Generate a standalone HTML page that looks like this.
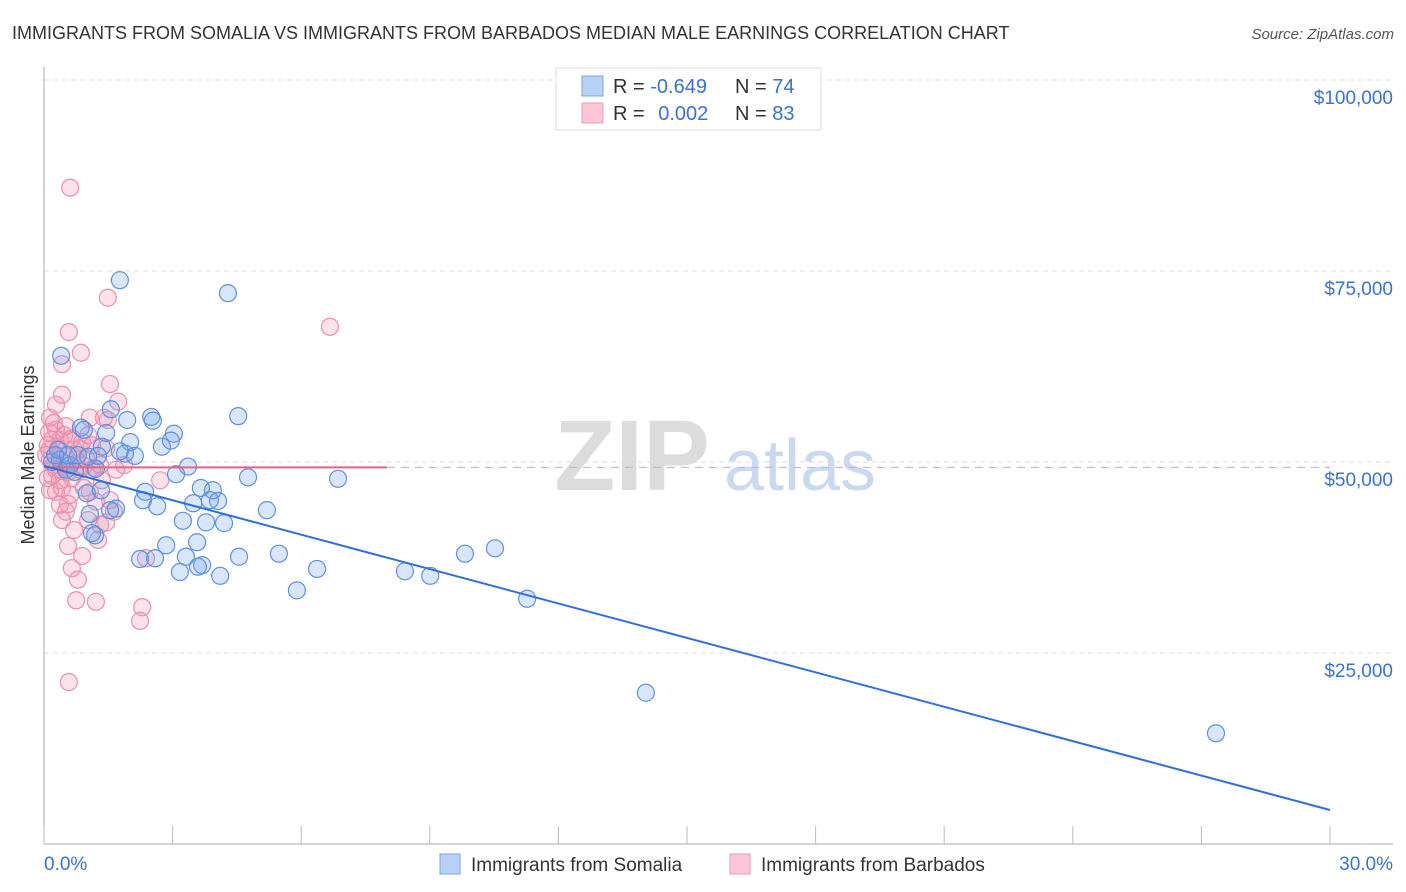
<!DOCTYPE html>
<html><head><meta charset="utf-8">
<style>
body{margin:0;background:#fff;font-family:"Liberation Sans",sans-serif;}
#wrap{position:relative;width:1406px;height:892px;overflow:hidden;}
svg text{font-family:"Liberation Sans",sans-serif;}
</style></head>
<body>
<div id="wrap">
<svg id="chart" width="1406" height="892">
  <text x="12" y="39" font-size="18" fill="#333">IMMIGRANTS FROM SOMALIA VS IMMIGRANTS FROM BARBADOS MEDIAN MALE EARNINGS CORRELATION CHART</text>
  <text x="1394" y="39" font-size="15" fill="#555" font-style="italic" text-anchor="end">Source: ZipAtlas.com</text>
  <g>
    <text x="632" y="490" font-size="100" font-family="Liberation Serif" font-weight="bold" fill="#dcdcdc" text-anchor="middle">ZIP</text>
    <text x="800" y="490" font-size="72" fill="#c9d9f0" text-anchor="middle">atlas</text>
  </g>
  <g id="grid"></g>
  <g id="axes"></g>
  <g id="pts"></g>
  <g id="trends"></g>
  <text transform="translate(34,455) rotate(-90)" font-size="18" fill="#333" text-anchor="middle">Median Male Earnings</text>
  <g>
    <rect x="556" y="68" width="265" height="62" fill="#fff" stroke="#ddd"/>
    <rect x="582" y="76" width="21" height="20" fill="#b9d1f5" stroke="#7ea6e0"/>
    <rect x="582" y="103" width="21" height="20" fill="#fcc6d6" stroke="#ec9ab4"/>
    <text x="613" y="93" font-size="20" fill="#333">R = <tspan fill="#3a72d0">-0.649</tspan></text>
    <text x="735" y="93" font-size="20" fill="#333">N = <tspan fill="#3a72d0">74</tspan></text>
    <text x="613" y="120" font-size="20" fill="#333">R = <tspan fill="#3a72d0" dx="8">0.002</tspan></text>
    <text x="735" y="120" font-size="20" fill="#333">N = <tspan fill="#3a72d0">83</tspan></text>
  </g>
  <g>
    <rect x="440" y="854" width="20" height="20" fill="#b9d1f5" stroke="#7ea6e0"/>
    <text x="471" y="871" font-size="19" fill="#333">Immigrants from Somalia</text>
    <rect x="730" y="854" width="20" height="20" fill="#fcc6d6" stroke="#ec9ab4"/>
    <text x="761" y="871" font-size="19" fill="#333">Immigrants from Barbados</text>
  </g>
</svg>
</div>
<script>
const yTickValues=[25,50,75,100];
const yTickLabels=["$25,000","$50,000","$75,000","$100,000"];
const xTickValues=[0,3,6,9,12,15,18,21,24,27,30];
const xEndLabels=["0.0%","30.0%"];
const somaliaX=[1.77,4.29,0.40,4.53,2.50,2.54,1.56,1.94,0.86,3.03,2.75,1.45,2.01,1.35,2.12,1.89,2.96,3.36,0.51,1.21,4.76,6.86,3.08,3.66,3.94,4.06,3.87,3.48,2.36,2.31,2.64,1.00,1.33,1.68,1.07,3.24,3.78,4.20,5.20,1.19,2.85,3.57,3.31,2.24,2.59,4.55,5.48,3.69,3.59,3.17,4.11,6.37,5.90,8.42,9.01,9.82,10.52,11.27,14.04,27.34,0.37,0.19,0.33,0.61,0.79,1.03,0.93,1.26,0.72,0.56,0.26,1.77,1.54,1.12];
const somaliaY=[73.8,72.1,63.9,56.0,55.9,55.4,56.9,55.5,54.5,53.7,52.0,53.8,52.6,52.0,50.8,51.1,52.8,49.4,49.0,49.1,48.0,47.8,48.4,46.6,46.3,44.9,45.0,44.6,46.1,45.0,44.2,45.9,46.3,43.9,43.2,42.3,42.1,42.0,43.7,40.4,39.1,39.5,37.6,37.3,37.4,37.6,38.0,36.5,36.3,35.6,35.1,36.0,33.2,35.7,35.1,38.0,38.7,32.1,19.8,14.5,50.3,50.0,51.6,49.6,50.9,50.7,54.2,50.8,48.7,50.9,50.9,51.4,43.7,40.7];
const barbadosX=[0.61,1.49,6.67,0.58,0.86,0.42,1.54,0.42,0.28,1.73,1.07,0.14,0.12,1.49,0.37,0.61,1.12,0.98,1.45,0.12,0.14,0.28,0.51,0.84,1.31,1.87,0.09,0.37,0.65,0.28,0.93,1.54,0.56,1.21,0.51,0.42,1.03,1.31,0.70,1.63,1.45,0.56,0.89,0.65,0.79,0.75,1.21,2.29,2.24,0.58,1.26,2.71,2.38,0.19,0.33,0.47,0.70,0.37,0.19,0.75,0.93,1.12,0.28,0.47,0.09,0.23,0.56,0.84,1.07,1.35,1.68,0.61,0.37,1.40,1.17,0.14,0.42,0.65,0.89,0.23,0.51,0.05,1.03];
const barbadosY=[85.9,71.5,67.7,67.0,64.3,62.8,60.2,58.8,57.5,57.9,55.8,55.8,53.9,55.5,52.9,52.9,52.2,50.5,51.8,51.6,50.3,49.0,49.7,49.0,49.6,49.6,47.9,47.6,47.9,46.1,46.6,45.0,44.5,44.8,43.5,42.4,42.4,41.8,41.1,43.5,42.1,39.0,37.7,36.1,34.6,31.9,31.7,31.0,29.2,21.2,39.8,47.6,37.4,52.9,51.8,50.8,51.6,49.0,48.2,50.3,49.5,49.0,54.2,53.5,52.2,49.6,48.7,51.8,46.1,47.6,49.0,45.7,44.4,55.8,49.2,46.3,46.6,53.1,52.6,55.1,54.7,50.9,53.5];
const somaliaTrend=[[0,49.5],[30,4.45]];
const barbadosTrend=[[0,49.3],[8,49.3],[30,49.3]];

const NS="http://www.w3.org/2000/svg";
const X=v=>44+v*(1286/30);
const Y=v=>844-v*7.64;
function mk(tag,attrs,parent){const e=document.createElementNS(NS,tag);for(const k in attrs)e.setAttribute(k,attrs[k]);parent.appendChild(e);return e;}
const grid=document.getElementById('grid'),axes=document.getElementById('axes'),pts=document.getElementById('pts'),tr=document.getElementById('trends');
yTickValues.forEach((v,i)=>{
  const l=mk('line',{x1:44,x2:1393,y1:Y(v),y2:Y(v),stroke:'#ddd','stroke-dasharray':'5,4'},grid);
  
  
  const t=mk('text',{x:1393,y:Y(v)+24,'font-size':19,fill:'#3a72d0','text-anchor':'end'},axes);
  t.textContent=yTickLabels[i];
  
  
});
const ya=mk('line',{x1:44,x2:44,y1:67,y2:844,stroke:'#aaa'},axes);


const xa=mk('line',{x1:44,x2:1393,y1:844,y2:844,stroke:'#aaa'},axes);


xTickValues.forEach(v=>{
  const t=mk('line',{x1:X(v),x2:X(v),y1:826,y2:844,stroke:'#bbb'},axes);
  
  
});
const xl0=mk('text',{x:44,y:870,'font-size':19,fill:'#3a72d0'},axes);
xl0.textContent=xEndLabels[0];


const xl1=mk('text',{x:1393,y:870,'font-size':19,fill:'#3a72d0','text-anchor':'end'},axes);
xl1.textContent=xEndLabels[1];



barbadosX.forEach((v,i)=>{
  const c=mk('circle',{cx:X(v),cy:Y(barbadosY[i]),r:8.5,fill:'rgba(243,150,180,0.28)',stroke:'#ea8fae','stroke-width':1.2},pts);
  
  
});
somaliaX.forEach((v,i)=>{
  const c=mk('circle',{cx:X(v),cy:Y(somaliaY[i]),r:8.5,fill:'rgba(120,165,235,0.28)',stroke:'#5e91dc','stroke-width':1.2},pts);
  
  
});
const bt1=mk('line',{x1:X(barbadosTrend[0][0]),y1:Y(barbadosTrend[0][1]),x2:X(barbadosTrend[1][0]),y2:Y(barbadosTrend[1][1]),stroke:'#e8628a','stroke-width':2},tr);


const bt2=mk('line',{x1:X(barbadosTrend[1][0]),y1:Y(barbadosTrend[1][1]),x2:X(barbadosTrend[2][0]),y2:Y(barbadosTrend[2][1]),stroke:'#eaa0b8','stroke-width':1,'stroke-dasharray':'8,6'},tr);


const st=mk('line',{x1:X(somaliaTrend[0][0]),y1:Y(somaliaTrend[0][1]),x2:X(somaliaTrend[1][0]),y2:Y(somaliaTrend[1][1]),stroke:'#2f6fd6','stroke-width':2},tr);


</script>
</body></html>
